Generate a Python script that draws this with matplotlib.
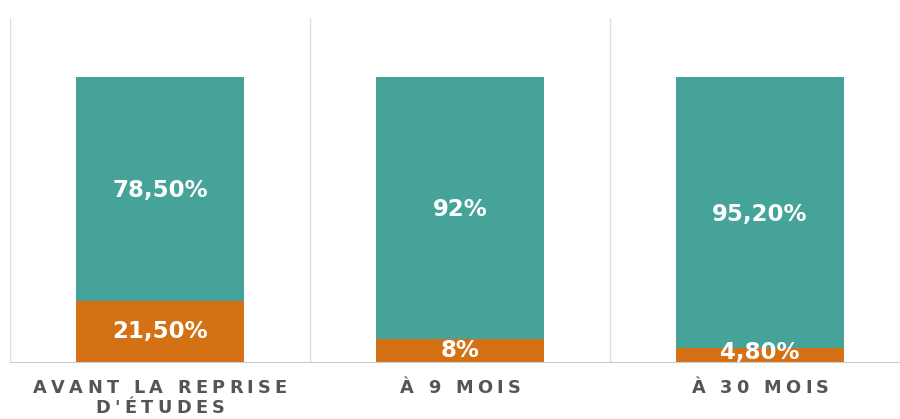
import matplotlib
matplotlib.use("Agg")
import matplotlib.pyplot as plt
import matplotlib.transforms as mtransforms
from matplotlib.font_manager import FontProperties
import numpy as np

categories = ["AVANT LA REPRISE\nD'ÉTUDES", "À 9 MOIS", "À 30 MOIS"]
bottom_vals = [21.5, 8.0, 4.8]
top_vals = [78.5, 92.0, 95.2]
bottom_labels = ["21,50%", "8%", "4,80%"]
top_labels = ["78,50%", "92%", "95,20%"]

TEAL = "#46A39A"
ORANGE = "#D47114"
LABEL_GREY = "#555555"
W, H = 900, 419

fig = plt.figure(figsize=(W / 100, H / 100), dpi=100)
ax = fig.add_axes([10 / W, (H - 362) / H, 890 / W, (362 - 18) / H])
x = np.arange(len(categories))
bw = 0.557
ax.bar(x, bottom_vals, width=bw, color=ORANGE, zorder=2)
ax.bar(x, top_vals, bottom=bottom_vals, width=bw, color=TEAL, zorder=2)

ax.set_xlim(-0.5, 2.4667)
ax.set_ylim(0, 120.7)

val_kw = dict(ha="center", va="center", color="white", fontsize=16.5,
              fontweight="bold", family="DejaVu Sans", zorder=3)
for i in range(len(categories)):
    ax.text(x[i], max(bottom_vals[i] / 2, 3.5), bottom_labels[i], **val_kw)
    ax.text(x[i], bottom_vals[i] + top_vals[i] / 2 - 0.5, top_labels[i], **val_kw)

# dividers between categories
for xv in [-0.5, 0.5, 1.5]:
    ax.axvline(xv, color="#DDDDDD", lw=1, zorder=1)

for s in ["top", "right", "left"]:
    ax.spines[s].set_visible(False)
ax.spines["bottom"].set_color("#CCCCCC")
ax.set_yticks([])
ax.set_xticks([])

# letter-spaced category labels
fp = FontProperties(family="DejaVu Sans", weight="bold", size=12.8)
renderer = fig.canvas.get_renderer()


def text_w(s):
    w, _, _ = renderer.get_text_width_height_descent(s, fp, ismath=False)
    return w


def advance(ch):
    return text_w("H" + ch + "H") - text_w("HH")


spacing = 4.3  # px between letters
line_baselines = [H - 393, H - 413]  # pixel y of baselines (from bottom)
ident = mtransforms.IdentityTransform()
for i, cat in enumerate(categories):
    cx = ax.transData.transform((x[i], 0))[0]
    for li, line in enumerate(cat.split("\n")):
        advs = [advance(c) for c in line]
        total = sum(advs) + spacing * (len(line) - 1)
        px = cx - total / 2
        for c, a in zip(line, advs):
            if c != " ":
                fig.text(px, line_baselines[li], c, transform=ident, fontproperties=fp,
                         color=LABEL_GREY, ha="left", va="baseline")
            px += a + spacing

fig.savefig("out.png", dpi=100)
